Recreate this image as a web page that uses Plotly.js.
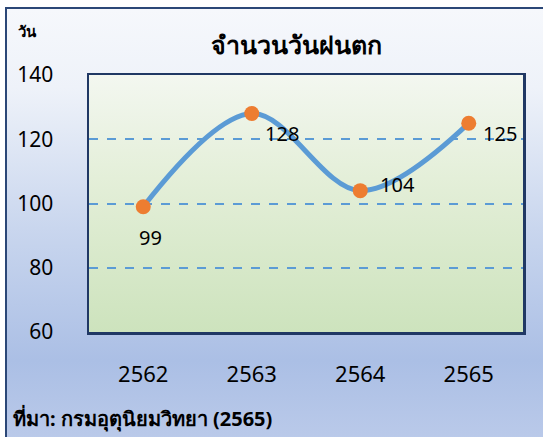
<!DOCTYPE html>
<html>
<head>
<meta charset="utf-8">
<script src="https://cdn.plot.ly/plotly-3.0.1.min.js"></script>
<style>
  html, body { margin: 0; padding: 0; background: #ffffff; overflow: hidden; }
  #wrap { position: relative; width: 543px; height: 437px; }
  #frame { position: absolute; left: 5px; top: 7px; width: 545px; height: 440px;
    border-left: 2px solid #2b4777; border-top: 2px solid #2b4777;
    background: linear-gradient(to bottom, #f6f8fc 0%, #eef2f9 18%, #c9d6ee 50%, #abbfe5 80%, #bccbea 100%); }
  #plotbg { position: absolute; left: 89px; top: 75px; width: 434px; height: 257px;
    background: linear-gradient(to bottom, #f3f7f0 0%, #e4efd9 40%, #cde3bd 100%); }
  #chart { position: absolute; left: 0; top: 0; width: 543px; height: 437px; }
</style>
</head>
<body>
<div id="wrap">
  <div id="frame"></div>
  <div id="plotbg"></div>
  <div id="chart"></div>
</div>
<script>
const years = ['2562', '2563', '2564', '2565'];
const rainyDays = [99, 128, 104, 125];
const yTicks = [60, 80, 100, 120, 140];
const titleText = 'จำนวนวันฝนตก';
const unitText = 'วัน';
const sourceText = 'ที่มา: กรมอุตุนิยมวิทยา (2565)';

const labelShiftX = [7, 30, 37, 31];
const labelShiftY = [-31, -20, 6, -10];

const fontFam = '"Noto Sans", "Open Sans", sans-serif';

const trace = {
  x: years,
  y: rainyDays,
  type: 'scatter',
  mode: 'lines+markers',
  line: { color: '#5b9bd5', width: 5, shape: 'spline', smoothing: 1 },
  marker: { color: '#ed7d31', size: 15, line: { width: 0 } },
  hoverinfo: 'skip'
};

const annotations = years.map((yr, i) => ({
  x: i, y: rainyDays[i], xref: 'x', yref: 'y',
  text: String(rainyDays[i]), showarrow: false,
  xshift: labelShiftX[i], yshift: labelShiftY[i],
  font: { family: fontFam, size: 20, color: '#000000' }
}));

annotations.push({
  xref: 'paper', yref: 'paper', x: 0.479, y: 1, yanchor: 'middle', yshift: 31,
  text: '<b>' + titleText + '</b>', showarrow: false,
  font: { family: fontFam, size: 25, color: '#000000' }
});
annotations.push({
  xref: 'paper', yref: 'paper', x: -0.168, xanchor: 'left', y: 1, yanchor: 'middle', yshift: 44,
  text: '<b>' + unitText + '</b>', showarrow: false,
  font: { family: fontFam, size: 15, color: '#000000' }
});
annotations.push({
  xref: 'paper', yref: 'paper', x: -0.18, xanchor: 'left', y: 0, yanchor: 'middle', yshift: -86,
  text: '<b>' + sourceText + '</b>', showarrow: false,
  font: { family: fontFam, size: 20, color: '#000000' }
});

const layout = {
  width: 543, height: 437,
  margin: { l: 89, r: 20, t: 75, b: 105 },
  paper_bgcolor: 'rgba(0,0,0,0)',
  plot_bgcolor: 'rgba(0,0,0,0)',
  showlegend: false,
  xaxis: {
    type: 'category', range: [-0.5, 3.5],
    showgrid: false, zeroline: false,
    showline: true, mirror: true, linecolor: '#203864', linewidth: 2.5,
    ticks: '', ticklabelstandoff: 21,
    tickfont: { family: fontFam, size: 22, color: '#000000' }
  },
  yaxis: {
    range: [60, 140], tickvals: yTicks, ticktext: yTicks.map(String),
    showgrid: true, gridcolor: '#5b9bd5', gridwidth: 2, griddash: 'dash',
    zeroline: false,
    showline: true, mirror: true, linecolor: '#203864', linewidth: 2.5,
    ticks: '', ticklabelstandoff: 29,
    tickfont: { family: fontFam, size: 21, color: '#000000' }
  },
  annotations: annotations
};

Plotly.newPlot('chart', [trace], layout, { displayModeBar: false, staticPlot: true });
</script>
</body>
</html>
